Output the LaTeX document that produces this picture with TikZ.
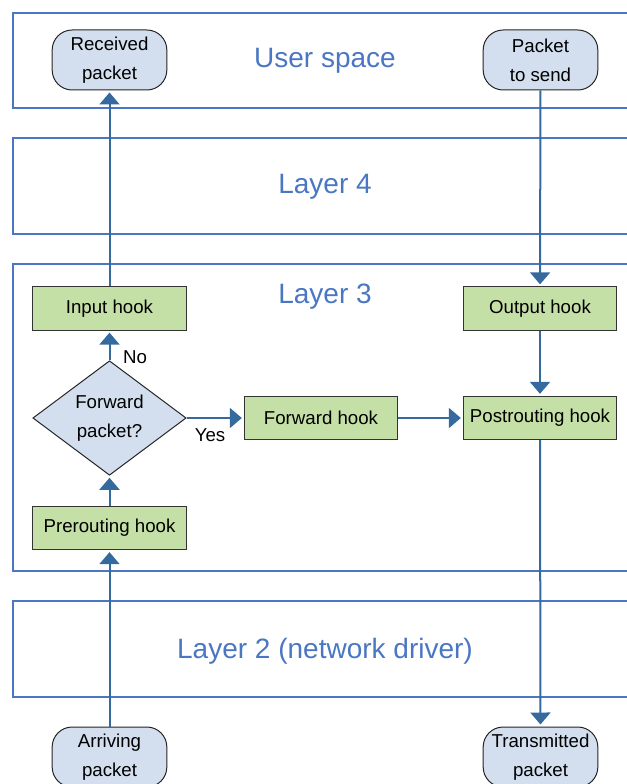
\documentclass[tikz,border=0pt]{standalone}
\usepackage{fontspec}
\setmainfont{Liberation Sans}
\usetikzlibrary{shapes.geometric,arrows.meta}
\definecolor{layerblue}{HTML}{4A76C2}
\definecolor{arrowblue}{HTML}{356A9E}
\definecolor{hookgreen}{HTML}{C5E0A6}
\definecolor{packetblue}{HTML}{D3DFEE}
\tikzset{
  layerbox/.style={draw=layerblue, line width=1.5pt},
  layertitle/.style={text=layerblue, font=\fontsize{21}{25}\selectfont},
  hook/.style={draw=black!80, line width=0.75pt, fill=hookgreen, minimum width=115pt,
    minimum height=32.5pt, inner sep=0pt, font=\fontsize{14}{17}\selectfont},
  packet/.style={draw=black!85, line width=0.75pt, fill=packetblue, rounded corners=15pt,
    minimum width=86pt, minimum height=45pt, inner sep=0pt, align=center,
    font=\fontsize{14}{21.5}\selectfont},
  decision/.style={diamond, draw=black!85, line width=0.75pt, fill=packetblue,
    minimum width=115pt, minimum height=78pt, inner sep=0pt, align=center,
    font=\fontsize{14}{21.5}\selectfont},
  flow/.style={draw=arrowblue, line width=1.5pt, shorten >=1.5pt,
    -{Triangle[width=15pt,length=9pt]}},
  tag/.style={font=\fontsize{14}{17}\selectfont, inner sep=0pt}
}
\begin{document}
\begin{tikzpicture}[x=0.75pt, y=-0.75pt]
\useasboundingbox (0,0) rectangle (627,784);
\clip (0,0) rectangle (627,784);

% layer frames (right side runs past the page edge)
\draw[layerbox] (13,13) rectangle (660,108);
\draw[layerbox] (13,138) rectangle (660,234);
\draw[layerbox] (13,264) rectangle (660,571);
\draw[layerbox] (13,601) rectangle (660,697);

\node[layertitle] (tuser) at (325,61) {User space};
\node[layertitle] (tl4) at (325,187) {Layer 4};
\node[layertitle] (tl3) at (325,297) {Layer 3};
\node[layertitle] (tl2) at (325,651) {Layer 2 (network driver)};

% packets entering and leaving
\node[packet] (recv) at (109.5,60) {Received\\packet};
\node[packet] (send) at (540.5,60) {Packet\\to send};
\node[packet] (arrive) at (109.5,757) {Arriving\\packet};
\node[packet] (trans) at (540.5,757) {Transmitted\\packet};

% netfilter hooks
\node[hook] (input) at (109.5,308.5) {Input hook};
\node[hook] (output) at (540,308.5) {Output hook};
\node[hook] (fwd) at (321,418) {Forward hook};
\node[hook] (post) at (540,418) {Postrouting hook};
\node[hook] (pre) at (109.5,528) {Prerouting hook};
\node[decision] (fwdq) at (109.5,418) {Forward\\packet?};

% packet flow
\draw[flow] (arrive) -- (pre);
\draw[flow] (pre) -- (fwdq);
\draw[flow] (fwdq) -- (input);
\draw[flow] (input) -- (recv);
\draw[flow] (fwdq) -- (fwd);
\draw[flow] (fwd) -- (post);
\draw[flow] (send) -- (output);
\draw[flow] (output) -- (post);
\draw[flow] (post) -- (trans);

\node[tag] (no) at (135,357) {No};
\node[tag] (yes) at (210,435) {Yes};
\end{tikzpicture}
\end{document}
